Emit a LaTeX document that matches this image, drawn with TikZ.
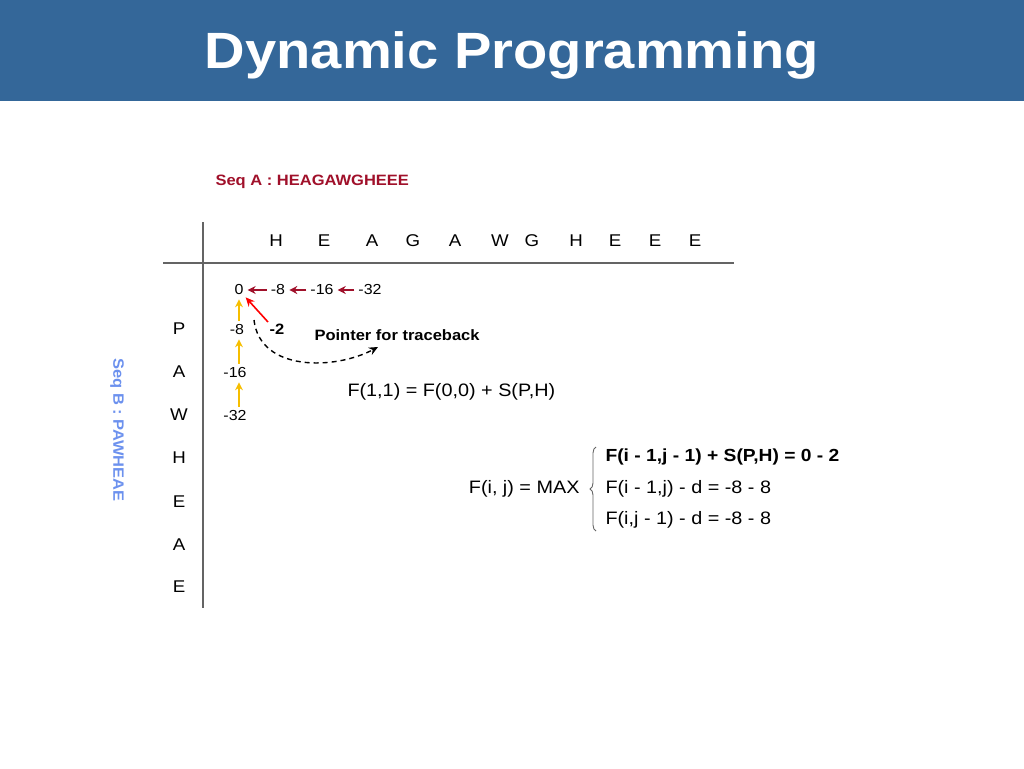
\documentclass[tikz,border=0pt]{standalone}
\usepackage{fontspec}
\setmainfont{Liberation Sans}[FakeStretch=1.1]
\usetikzlibrary{arrows.meta,decorations.pathreplacing}

\definecolor{titleblue}{RGB}{52,103,153}
\definecolor{seqred}{RGB}{160,16,42}
\definecolor{seqblue}{RGB}{108,145,238}
\definecolor{arrowyellow}{RGB}{246,190,0}
\definecolor{gridgray}{RGB}{100,100,100}

\begin{document}
\begin{tikzpicture}[x=1pt,y=-1pt,
        lbl/.style={inner sep=2pt, font=\fontsize{17}{20}\selectfont},
        num/.style={inner sep=2pt, font=\fontsize{14.5}{17}\selectfont},
        leftarr/.style={-{Stealth[length=8pt,width=8pt]}, seqred, line width=1.8pt, shorten <=2pt, shorten >=2pt},
        uparr/.style={-{Stealth[length=8pt,width=8pt]}, arrowyellow, line width=1.8pt, shorten <=2pt, shorten >=2pt}]
        % Page and title bar
        \useasboundingbox (0,0) rectangle (1024,768);
        \fill[titleblue] (0,0) rectangle (1024,101);
        \node[text=white, font=\fontsize{51}{60}\bfseries] (title) at (512,55) {Dynamic Programming};

        % Sequence labels
        \node[anchor=west, text=seqred, font=\fontsize{15}{18}\bfseries] (seqA) at (212,182) {Seq A : HEAGAWGHEEE};
        \node[rotate=-90, text=seqblue, font=\fontsize{15}{18}\bfseries] (seqB) at (117,430) {Seq B : PAWHEAE};

        % Grid lines
        \draw[gridgray, line width=1.2pt] (203,222) -- (203,608);
        \draw[gridgray, line width=1.2pt] (163,263) -- (734,263);

        % Header letters (Seq A)
        \foreach \ch/\xx [count=\i] in {H/276,E/324,A/372,G/413,A/455,W/500,G/532,H/576,E/615,E/655,E/695}
            \node[lbl] (h\i) at (\xx,241) {\ch};
        % Row letters (Seq B)
        \foreach \ch/\yy [count=\i] in {P/329,A/372,W/415,H/458,E/502,A/545,E/587}
            \node[lbl] (r\i) at (179,\yy) {\ch};

        % Score cells
        \node[num] (c00) at (239,290) {0};
        \node[num] (c01) at (278,290) {-8};
        \node[num] (c02) at (322,290) {-16};
        \node[num] (c03) at (370,290) {-32};
        \node[num] (c10) at (237,330) {-8};
        \node[num] (c20) at (235,373) {-16};
        \node[num] (c30) at (235,416) {-32};
        \node[num, font=\fontsize{15}{18}\bfseries] (c11) at (277,329) {-2};

        % Gap arrows
        \draw[leftarr] (c01) -- (c00);
        \draw[leftarr] (c02) -- (c01);
        \draw[leftarr] (c03) -- (c02);
        \draw[uparr] (c10.north -| c00) -- (c00.south);
        \draw[uparr] (c20.north -| c00) -- (c10.south -| c00);
        \draw[uparr] (c30.north -| c00) -- (c20.south -| c00);
        % Diagonal pointer
        \draw[-{Stealth[length=9pt,width=8pt]}, red, line width=1.6pt] (268,322) -- (c00.south east);

        % Traceback note
        \node[anchor=west, font=\fontsize{15}{18}\bfseries] (note) at (311,335) {Pointer for traceback};
        \coordinate (dstart) at (254,320);
        \coordinate (dend) at (378,347);
        \draw[-{Stealth[length=9pt,width=8pt]}, line width=1.4pt, dash pattern=on 5pt off 4pt] (dstart) .. controls (260,372) and (335,370) .. (dend);

        % Formulas
        \node[anchor=west, font=\fontsize{18}{21}\selectfont] (f11) at (344,392) {F(1,1) = F(0,0) + S(P,H)};
        \node[anchor=east, font=\fontsize{18}{21}\selectfont] (fmax) at (583,489) {F(i, j) = MAX};
        \coordinate (bb) at (596,531);
        \coordinate (bt) at (596,447);
        \draw[decorate, decoration={brace, amplitude=6pt}, gridgray, line width=0.9pt] (bb) -- (bt);
        \node[anchor=west, font=\fontsize{17.5}{21}\bfseries] (case1) at (602,457) {F(i - 1,j - 1) + S(P,H) = 0 - 2};
        \node[anchor=west, font=\fontsize{18}{21}\selectfont] (case2) at (602,489) {F(i - 1,j) - d = -8 - 8};
        \node[anchor=west, font=\fontsize{18}{21}\selectfont] (case3) at (602,520) {F(i,j - 1) - d = -8 - 8};
\end{tikzpicture}
\end{document}
